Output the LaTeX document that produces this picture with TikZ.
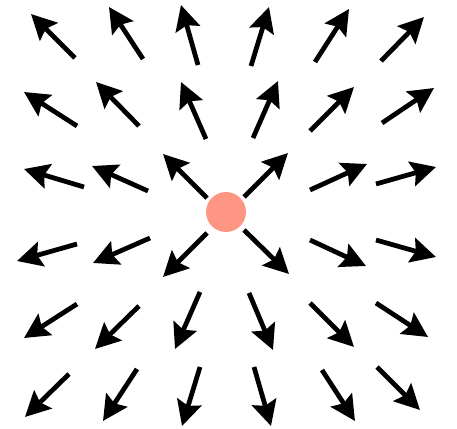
\documentclass[tikz,border=0pt]{standalone}
\usepackage{tikz}
\usepackage{xcolor}
\usetikzlibrary{arrows.meta}
\definecolor{salmon}{HTML}{FF9684}
\tikzset{
  fieldarrow/.style={
    -{Stealth[length=0.5cm, width=0.5cm, inset=0.08cm]},
    line width=0.095cm, color=black
  },
  charge/.style={
    circle, fill=salmon, draw=none,
    minimum size=0.8cm, inner sep=0pt
  },
}

\begin{document}
\begin{tikzpicture}[x=0.02cm, y=-0.02cm]
  \useasboundingbox (0,0) rectangle (457,429);
  \node[charge] (q) at (226,212) {};
  % row 1
  \draw[fieldarrow] (75,58) -- (31,14);
  \draw[fieldarrow] (143,59) -- (109,7);
  \draw[fieldarrow] (198,65) -- (181,5);
  \draw[fieldarrow] (251,66) -- (269,7);
  \draw[fieldarrow] (315,62) -- (349,9);
  \draw[fieldarrow] (381,61) -- (424,17);
  % row 2
  \draw[fieldarrow] (77,126) -- (24,92);
  \draw[fieldarrow] (139,126) -- (96,82);
  \draw[fieldarrow] (206,139) -- (181,82);
  \draw[fieldarrow] (253,138) -- (278,81);
  \draw[fieldarrow] (310,131) -- (354,87);
  \draw[fieldarrow] (382,123) -- (434,88);
  % row 3
  \draw[fieldarrow] (84,187) -- (24,169);
  \draw[fieldarrow] (148,191) -- (92,166);
  \draw[fieldarrow] (207,198) -- (163,154);
  \draw[fieldarrow] (244,197) -- (288,153);
  \draw[fieldarrow] (310,190) -- (367,164);
  \draw[fieldarrow] (376,184) -- (436,167);
  % row 4
  \draw[fieldarrow] (77,244) -- (17,261);
  \draw[fieldarrow] (150,238) -- (93,263);
  \draw[fieldarrow] (207,233) -- (163,277);
  \draw[fieldarrow] (244,230) -- (289,274);
  \draw[fieldarrow] (310,240) -- (366,266);
  \draw[fieldarrow] (376,240) -- (436,257);
  % row 5
  \draw[fieldarrow] (77,304) -- (24,338);
  \draw[fieldarrow] (139,306) -- (95,349);
  \draw[fieldarrow] (200,292) -- (175,349);
  \draw[fieldarrow] (249,293) -- (273,350);
  \draw[fieldarrow] (310,303) -- (354,347);
  \draw[fieldarrow] (376,303) -- (428,337);
  % row 6
  \draw[fieldarrow] (69,374) -- (25,417);
  \draw[fieldarrow] (137,369) -- (103,421);
  \draw[fieldarrow] (200,367) -- (182,426);
  \draw[fieldarrow] (254,367) -- (271,426);
  \draw[fieldarrow] (322,370) -- (355,421);
  \draw[fieldarrow] (377,367) -- (420,410);
\end{tikzpicture}
\end{document}
